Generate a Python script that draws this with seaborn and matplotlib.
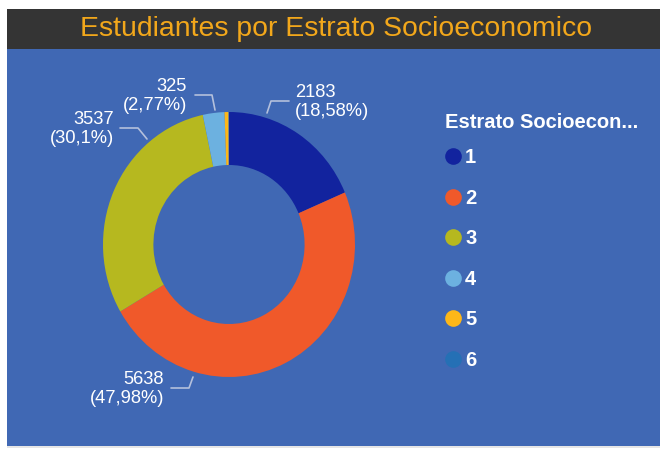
import numpy as np
import matplotlib.pyplot as plt
import seaborn as sns
from matplotlib.lines import Line2D
from matplotlib.patches import Rectangle

# ==============================================================================
# Datos
# ==============================================================================
estratos = ['1', '2', '3', '4', '5', '6']
estudiantes = [2183, 5638, 3537, 325, 61, 6]
colores = ['#12239E', '#F0592A', '#B6B81F', '#6CB1E0', '#FDB719', '#2570B5']

titulo = 'Estudiantes por Estrato Socioeconomico'
titulo_leyenda = 'Estrato Socioecon...'

# ==============================================================================
# Estilo
# ==============================================================================
sns.set_style('white')
plt.rcParams['font.family'] = ['Liberation Sans', 'DejaVu Sans']
paleta = sns.color_palette(colores)

AZUL = '#4068B4'
GRIS = '#343434'
NARANJA = '#F2A71B'
LINEA = '#B4C0DC'

fig = plt.figure(figsize=(6.6, 4.54), dpi=100, facecolor='white')

# Eje de fondo en pixeles (y hacia abajo)
ax_bg = fig.add_axes([0, 0, 1, 1])
ax_bg.set_xlim(0, 660)
ax_bg.set_ylim(454, 0)
ax_bg.axis('off')
ax_bg.add_patch(Rectangle((7, 9), 660, 40, color=GRIS, lw=0))
ax_bg.add_patch(Rectangle((7, 49), 660, 397, color=AZUL, lw=0))
ax_bg.add_patch(Rectangle((7, 446), 660, 2, color='#E6E6E6', lw=0))
ax_bg.text(336, 29, titulo, color=NARANJA, fontsize=20.4, ha='center', va='center')

# ==============================================================================
# Dona
# ==============================================================================
ax_pie = fig.add_axes([103 / 660, 77 / 454, 252 / 660, 265 / 454])
ax_pie.pie(estudiantes, colors=paleta, startangle=90, counterclock=False, radius=1,
           wedgeprops=dict(width=0.4, linewidth=0))
ax_pie.set_xlim(-1, 1)
ax_pie.set_ylim(-1, 1)
ax_pie.set_aspect('auto')
ax_pie.axis('off')

# Etiquetas de datos
total = sum(estudiantes)

def etiqueta(v):
    pct = f'{100 * v / total:.2f}'.rstrip('0').rstrip('.').replace('.', ',')
    return f'{v}\n({pct}%)'

# (texto x, texto y, alineacion, linea guia)
etiquetas = {
    0: (295, 102, 'left', [(267, 113), (271, 101), (289, 101)]),
    3: (187, 96, 'right', [(195, 95), (212, 95), (215, 110)]),
    2: (114, 129, 'right', [(120, 128), (138, 128), (147, 139)]),
    1: (164, 389, 'right', [(171, 388), (189, 388), (193, 377)]),
}
for i, (x, y, ha, guia) in etiquetas.items():
    gx, gy = zip(*guia)
    ax_bg.plot(gx, gy, color=LINEA, lw=1.2)
    ax_bg.text(x, y, etiqueta(estudiantes[i]), color='white', fontsize=13.2,
               ha=ha, va='center', multialignment=ha, linespacing=1.1)

# ==============================================================================
# Leyenda
# ==============================================================================
ax_bg.text(445, 123, titulo_leyenda, color='white', fontsize=14.5,
           fontweight='bold', ha='left', va='center')

handles = [Line2D([], [], marker='o', ls='', markersize=12, markerfacecolor=c,
                  markeredgewidth=0) for c in paleta]
leg = fig.legend(handles, estratos, loc='upper left',
                 bbox_to_anchor=(444 / 660, 1 - 148 / 454), frameon=False,
                 borderpad=0, borderaxespad=0, handlelength=0.9, handletextpad=0.15,
                 labelspacing=1.07, prop={'weight': 'bold', 'size': 14.5})
for t in leg.get_texts():
    t.set_color('white')

plt.savefig('out.png', dpi=100, facecolor='white')
